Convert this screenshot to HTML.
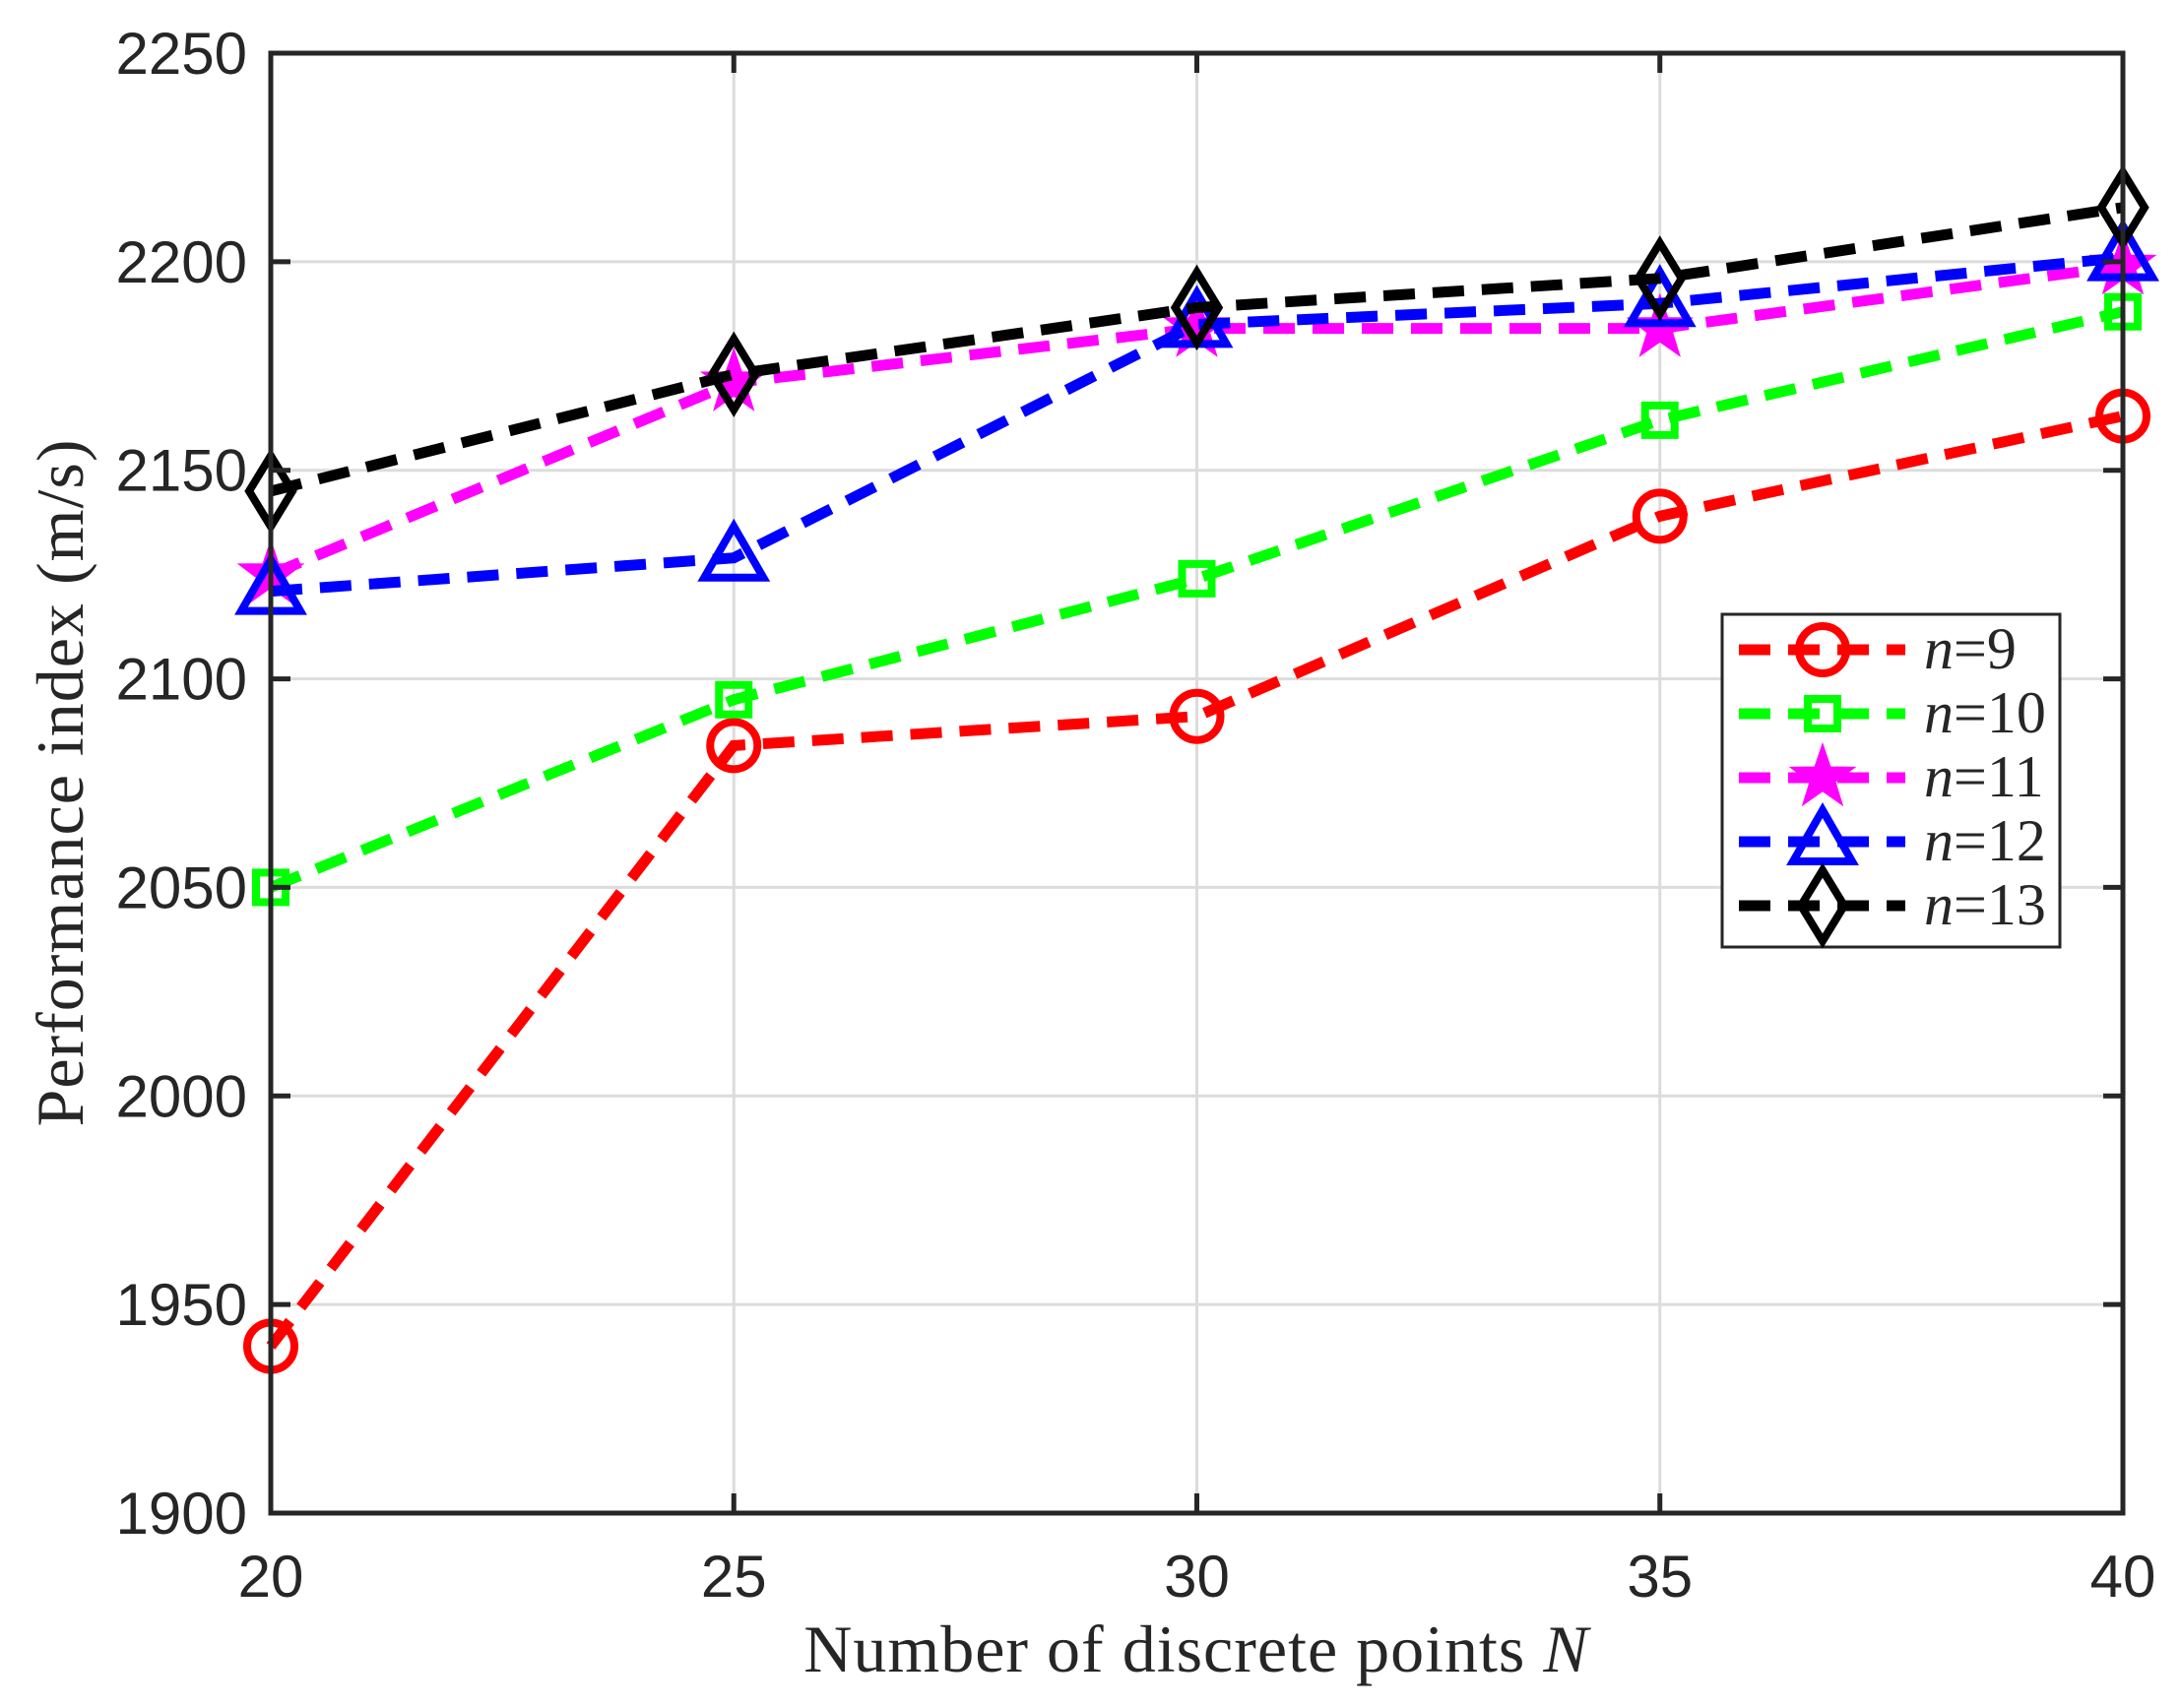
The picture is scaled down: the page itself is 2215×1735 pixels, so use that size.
<!DOCTYPE html>
<html><head><meta charset="utf-8"><style>
html,body{margin:0;padding:0;background:#fff}
svg{display:block}
.tick{font-family:"Liberation Sans",sans-serif;font-size:60px;fill:#262626}
.lab{font-family:"Liberation Serif",serif;font-size:68px;fill:#262626}
</style></head><body>
<svg id="chart" width="2215" height="1735" viewBox="0 0 2215 1735" xmlns="http://www.w3.org/2000/svg">
<g id="grid"></g>
<g id="series"></g>
<rect x="275" y="54" width="1881" height="1483" fill="none" stroke="#262626" stroke-width="5"/>
<g id="ticks"></g>
<text class="lab" x="1215" y="1698" text-anchor="middle" letter-spacing="1">Number of discrete points <tspan font-style="italic">N</tspan></text>
<text class="lab" transform="translate(84,795) rotate(-90)" text-anchor="middle" letter-spacing="1">Performance index (m/s)</text>
<g id="legend"></g>
</svg>
<script>
const categories=[20,25,30,35,40];
const yTicks=[1900,1950,2000,2050,2100,2150,2200,2250];
const names=["n=9","n=10","n=11","n=12","n=13"];
const s9=[1940,2084,2091,2139,2163];
const s10=[2050,2095,2124,2162,2188];
const s11=[2125,2171,2184,2184,2199];
const s12=[2121,2129,2185,2190,2201];
const s13=[2145,2173,2189,2196,2213];
const colors=["#ff0000","#00ff00","#ff00ff","#0000ff","#000000"];
const markers=["circle","square","star","triangle","diamond"];
const allSeries=[s9,s10,s11,s12,s13];
const L=275,R=2156,T=54,B=1537;
function X(v){return L+(v-20)/20*(R-L);}
function Y(v){return B-(v-1900)/350*(B-T);}
const NS="http://www.w3.org/2000/svg";
function mk(tag,attrs,parent){const e=document.createElementNS(NS,tag);for(const k in attrs)e.setAttribute(k,attrs[k]);parent.appendChild(e);return e;}
const grid=document.getElementById('grid'),ticks=document.getElementById('ticks'),ser=document.getElementById('series'),leg=document.getElementById('legend');
categories.forEach(c=>{
 const g=mk('line',{x1:X(c),x2:X(c),y1:T,y2:B,stroke:'#dcdcdc','stroke-width':3},grid);
 
 
 const t1=mk('line',{x1:X(c),x2:X(c),y1:B,y2:B-20,stroke:'#262626','stroke-width':5},ticks);
 
 
 const t2=mk('line',{x1:X(c),x2:X(c),y1:T,y2:T+20,stroke:'#262626','stroke-width':5},ticks);
 
 
 const tx=mk('text',{x:X(c),y:B+85,'text-anchor':'middle',class:'tick'},ticks);tx.textContent=c;
 
 
});
yTicks.forEach(v=>{
 const g=mk('line',{x1:L,x2:R,y1:Y(v),y2:Y(v),stroke:'#dcdcdc','stroke-width':3},grid);
 
 
 const t1=mk('line',{x1:L,x2:L+20,y1:Y(v),y2:Y(v),stroke:'#262626','stroke-width':5},ticks);
 
 
 const t2=mk('line',{x1:R,x2:R-20,y1:Y(v),y2:Y(v),stroke:'#262626','stroke-width':5},ticks);
 
 
 const tx=mk('text',{x:L-24,y:Y(v)+21,'text-anchor':'end',class:'tick'},ticks);tx.textContent=v;
 
 
});
function marker(type,x,y,col,parent){
 const st={fill:'none',stroke:col,'stroke-width':8};let e;
 if(type==='circle')e=mk('circle',Object.assign({cx:x,cy:y,r:24},st),parent);
 else if(type==='square')e=mk('rect',Object.assign({x:x-15,y:y-15,width:30,height:30},st),parent);
 else if(type==='triangle')e=mk('polygon',Object.assign({points:`${x},${y-32} ${x-30},${y+20} ${x+30},${y+20}`},st),parent);
 else if(type==='diamond')e=mk('polygon',Object.assign({points:`${x},${y-36} ${x+22},${y} ${x},${y+36} ${x-22},${y}`},st),parent);
 else{let p=[];for(let i=0;i<10;i++){const r=i%2?13:33,a=-Math.PI/2+i*Math.PI/5;p.push((x+r*Math.cos(a)).toFixed(1)+','+(y+r*Math.sin(a)).toFixed(1));}
  e=mk('polygon',{points:p.join(' '),fill:col,stroke:col,'stroke-width':2},parent);}
 return e;
}
allSeries.forEach((s,i)=>{
 const pts=s.map((v,j)=>X(categories[j])+','+Y(v)).join(' ');
 const pl=mk('polyline',{points:pts,fill:'none',stroke:colors[i],'stroke-width':11,'stroke-dasharray':'32 18'},ser);
 
 
 s.forEach((v,j)=>{const m=marker(markers[i],X(categories[j]),Y(v),colors[i],ser);
  
  });
});
const lb=mk('rect',{x:1749,y:624,width:343,height:338,fill:'#fff',stroke:'#262626','stroke-width':3},leg);


names.forEach((n,i)=>{
 const y=660+i*65;
 const g=mk('g',{},leg);
 
 
 mk('line',{x1:1766,x2:1935,y1:y,y2:y,stroke:colors[i],'stroke-width':11,'stroke-dasharray':'32 18'},g);
 marker(markers[i],1851,y,colors[i],g);
 const t=mk('text',{x:1954,y:y+19,class:'lab',style:'font-size:60px'},g);
 t.innerHTML='<tspan font-style="italic">n</tspan>='+n.split('=')[1];
});
</script>
</body></html>
